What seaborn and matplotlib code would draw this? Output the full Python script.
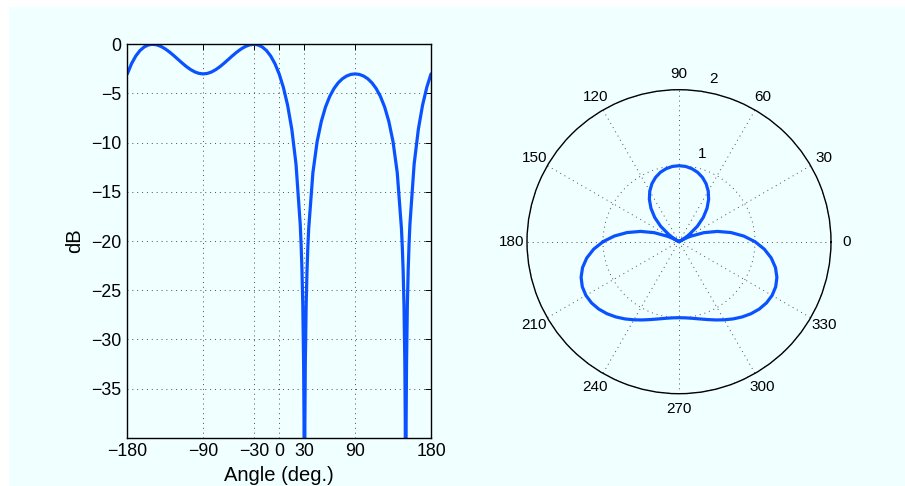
import numpy as np
import pandas as pd
import matplotlib
matplotlib.use("Agg")
import matplotlib.pyplot as plt
from matplotlib.patches import Rectangle
import seaborn as sns

# ---- data ----
angle_deg = [-180, -175, -170, -165, -160, -155, -150, -145, -140, -135, -130, -125,
             -120, -115, -110, -105, -100, -95, -90, -85, -80, -75, -70, -65, -60,
             -55, -50, -45, -40, -35, -30, -25, -20, -15, -10, -5, 0, 5, 10, 15, 20,
             25, 26, 27, 28, 29, 29.5, 30, 30.5, 31, 32, 33, 34, 35, 40, 45, 50, 55,
             60, 65, 70, 75, 80, 85, 90, 95, 100, 105, 110, 115, 120, 125, 130, 135,
             140, 145, 146, 147, 148, 149, 149.5, 150, 150.5, 151, 152, 153, 154, 155,
             160, 165, 170, 175, 180]
magnitude = [1.0000, 1.1271, 1.2323, 1.3139, 1.3709, 1.4038, 1.4142, 1.4047, 1.3787,
             1.3400, 1.2924, 1.2403, 1.1868, 1.1359, 1.0899, 1.0522, 1.0235, 1.0059,
             1.0000, 1.0059, 1.0235, 1.0522, 1.0899, 1.1359, 1.1868, 1.2403, 1.2924,
             1.3400, 1.3787, 1.4047, 1.4142, 1.4038, 1.3709, 1.3139, 1.2323, 1.1271,
             1.0000, 0.8542, 0.6937, 0.5230, 0.3473, 0.1714, 0.1367, 0.1021, 0.0678,
             0.0337, 0.0168, 0.0001, 0.0168, 0.0334, 0.0664, 0.0991, 0.1313, 0.1631,
             0.3145, 0.4521, 0.5739, 0.6797, 0.7690, 0.8426, 0.9010, 0.9453, 0.9758,
             0.9941, 1.0000, 0.9941, 0.9758, 0.9453, 0.9010, 0.8426, 0.7690, 0.6797,
             0.5739, 0.4521, 0.3145, 0.1631, 0.1313, 0.0991, 0.0664, 0.0334, 0.0168,
             0.0001, 0.0168, 0.0337, 0.0678, 0.1021, 0.1367, 0.1714, 0.3473, 0.5230,
             0.6937, 0.8542, 1.0000]
x_ticks = [-180, -90, -30, 0, 30, 90, 180]
y_ticks = [-35, -30, -25, -20, -15, -10, -5, 0]
theta_ticks = [0, 30, 60, 90, 120, 150, 180, 210, 240, 270, 300, 330]
r_ticks = [1, 2]

assert len(angle_deg) == len(magnitude)

df = pd.DataFrame({"angle": angle_deg, "mag": magnitude})
df["dB"] = 20 * np.log10(df["mag"] / df["mag"].max())
df["theta"] = np.deg2rad(df["angle"])

# ---- style ----
sns.set_style("white")
plt.rcParams["font.family"] = ["Liberation Sans", "DejaVu Sans"]
plt.rcParams["text.color"] = "black"
plt.rcParams["axes.labelcolor"] = "black"
plt.rcParams["xtick.color"] = "black"
plt.rcParams["ytick.color"] = "black"
BG = "#F0FFFF"
BLUE = "#0A52FF"
GRID = dict(color="#4d4d4d", linestyle=(0, (1, 4)), linewidth=0.7)

W, H = 905, 486
fig = plt.figure(figsize=(W / 100, H / 100), dpi=100, facecolor="white")
fig.patches.append(Rectangle((9 / W, 0), 1, (H - 7) / H, transform=fig.transFigure,
                             facecolor=BG, edgecolor="none", zorder=-10))

# ---- left: dB vs angle ----
ax1 = fig.add_axes([127.3 / W, 1 - 437.7 / H, (431 - 127.3) / W, (437.7 - 44.3) / H])
ax1.set_facecolor(BG)
sns.lineplot(data=df, x="angle", y="dB", ax=ax1, color=BLUE, linewidth=2.3,
             estimator=None, sort=False)
ax1.set_xlim(-180, 180)
ax1.set_ylim(-40, 0)
ax1.set_xticks(x_ticks)
ax1.set_xticklabels([f"{v}".replace("-", "\u2212") for v in x_ticks])
ax1.set_yticks(y_ticks)
ax1.set_yticklabels([f"{v}".replace("-", "\u2212") for v in y_ticks])
ax1.tick_params(direction="in", top=True, right=True, length=4, width=0.7,
                labelsize=12.8, pad=4, colors="black")
for s in ax1.spines.values():
    s.set_visible(True)
    s.set_color("black")
    s.set_linewidth(1.0)
ax1.grid(True, **GRID)
ax1.set_axisbelow(True)
ax1.set_xlabel("Angle (deg.)", fontsize=14.5, labelpad=4, color="black")
ax1.set_ylabel("dB", fontsize=14.5, labelpad=5, color="black")

# ---- right: polar magnitude ----
ax2 = fig.add_axes([527 / W, 1 - 393.7 / H, 304 / W, 304 / H], projection="polar")
ax2.set_facecolor(BG)
sns.lineplot(data=df, x="theta", y="mag", ax=ax2, color=BLUE, linewidth=2.3,
             estimator=None, sort=False)
ax2.set_xlabel("")
ax2.set_ylabel("")
ax2.set_ylim(0, 2)
ax2.set_yticks(r_ticks)
ax2.set_yticklabels([])
ax2.set_xticks(np.deg2rad(theta_ticks))
ax2.set_xticklabels([str(t) for t in theta_ticks])
ax2.tick_params(axis="x", pad=4, length=0, labelsize=11, colors="black")
ax2.tick_params(axis="y", length=0)
ax2.grid(True, **GRID)
ax2.spines["polar"].set_color("black")
ax2.spines["polar"].set_linewidth(1.0)
ax2.text(np.deg2rad(75), 1.19, "1", ha="center", va="center", fontsize=11,
         color="black")
ax2.text(np.deg2rad(78.1), 2.19, "2", ha="center", va="center", fontsize=11,
         color="black", clip_on=False)

fig.savefig("out.png", dpi=100, facecolor=fig.get_facecolor())
